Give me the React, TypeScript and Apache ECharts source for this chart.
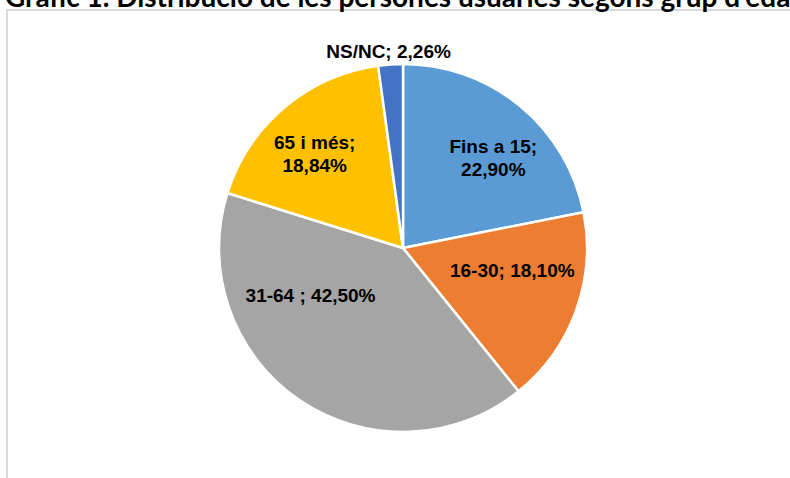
import React, { useEffect, useRef } from "react";
import * as echarts from "echarts";

const categories = ["Fins a 15", "16-30", "31-64 ", "65 i més", "NS/NC"];
const values = [22.9, 18.1, 42.5, 18.84, 2.26];
const valueLabels = ["22,90%", "18,10%", "42,50%", "18,84%", "2,26%"];
const colors = ["#5B9BD5", "#ED7D31", "#A5A5A5", "#FFC000", "#4472C4"];
const labelBreak = [true, false, false, true, false];
const labelOffsets: [number, number][] = [
  [30, -17],
  [20, -10],
  [-39, -31],
  [-27, -21],
  [-8, -102],
];
const titleText = "Gràfic 1. Distribució de les persones usuàries segons grup d'edat";

export default function App() {
  const ref = useRef<HTMLDivElement>(null);
  useEffect(() => {
    if (!ref.current) return;
    const chart = echarts.init(ref.current, null, { renderer: "svg" });
    chart.setOption({
      animation: false,
      backgroundColor: "#ffffff",
      graphic: [
        {
          type: "rect",
          shape: { x: 7, y: 10, width: 900, height: 600 },
          style: { fill: "none", stroke: "#d9d9d9", lineWidth: 2 },
          silent: true,
        },
        {
          type: "text",
          x: 5,
          y: 10,
          style: {
            text: titleText,
            font: "bold 28px Lato, 'Open Sans', sans-serif",
            fill: "#000000",
            verticalAlign: "bottom",
          },
          silent: true,
        },
      ],
      series: [
        {
          type: "pie",
          center: [403, 248],
          radius: 184,
          startAngle: 90,
          clockwise: true,
          itemStyle: { borderColor: "#ffffff", borderWidth: 2.5 },
          label: {
            show: true,
            position: "inside",
            color: "#000000",
            fontFamily: "Liberation Sans, Arial, sans-serif",
            fontWeight: "bold",
            fontSize: 19,
            lineHeight: 23,
          },
          labelLine: { show: false },
          emphasis: { disabled: true },
          data: categories.map((c, i) => ({
            name: c,
            value: values[i],
            itemStyle: { color: colors[i] },
            label: {
              formatter: c + ";" + (labelBreak[i] ? "\n" : " ") + valueLabels[i],
              offset: labelOffsets[i],
            },
          })),
        },
      ],
    });
    return () => chart.dispose();
  }, []);
  return (
    <div
      ref={ref}
      style={{ position: "fixed", left: 0, top: 0, width: 790, height: 478 }}
    />
  );
}
